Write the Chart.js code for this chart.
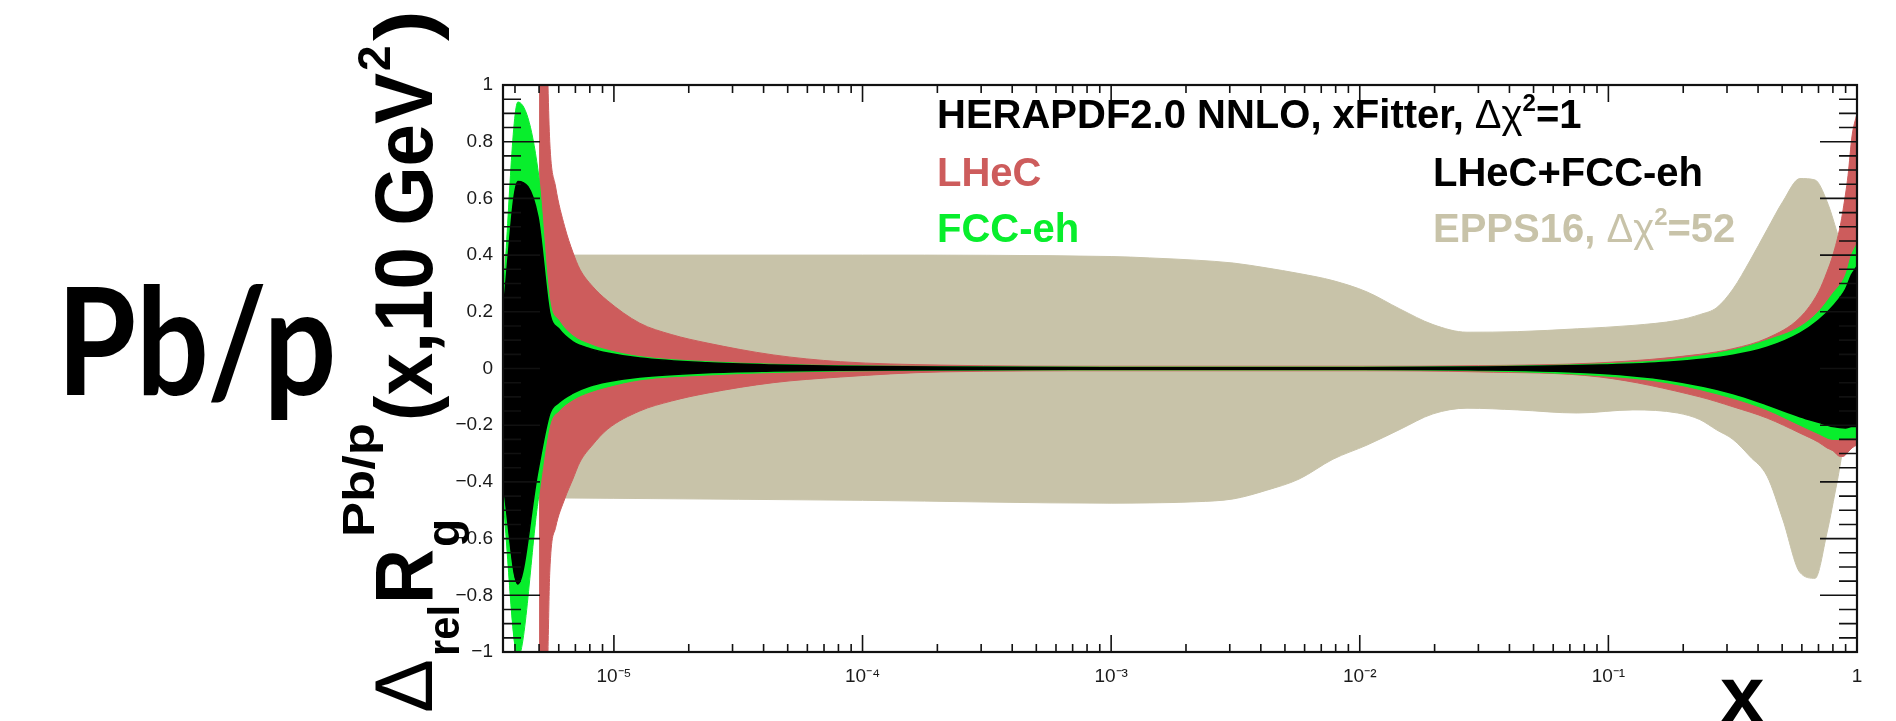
<!DOCTYPE html>
<html>
<head>
<meta charset="utf-8">
<title>Pb/p gluon uncertainty bands</title>
<script src="https://cdn.jsdelivr.net/npm/chart.js@4.4.0/dist/chart.umd.min.js"></script>
<style>
  html, body { margin: 0; padding: 0; background: #fff; }
  #wrap { position: relative; width: 1896px; height: 721px; }
</style>
</head>
<body>
<div id="wrap"><canvas id="bands"></canvas></div>
<script>
// x range of the plot
const X_MIN = 3.58e-6;
const X_MAX = 1;

// LHeC+FCC-eh (black)
const xCombined = [3.58e-6, 4.11e-6, 4.95e-6, 5.52e-6, 6.0e-6, 6.84e-6, 8.0e-6, 9.4e-6, 1.27e-5, 2.37e-5, 4.4e-5, 8e-5, 2e-4, 1e-3, 1e-2, 3e-2, 0.0925, 0.172, 0.317, 0.435, 0.59, 0.70, 0.80, 0.90, 0.95, 1.0];
const combinedUp = [0.20, 0.66, 0.535, 0.196, 0.14, 0.094, 0.07, 0.055, 0.037, 0.02, 0.012, 0.008, 0.005, 0.003, 0.003, 0.005, 0.012, 0.022, 0.047, 0.075, 0.125, 0.17, 0.22, 0.28, 0.33, 0.36];
const combinedLo = [-0.40, -0.76, -0.36, -0.16, -0.12, -0.087, -0.062, -0.047, -0.03, -0.015, -0.009, -0.006, -0.004, -0.003, -0.003, -0.005, -0.017, -0.04, -0.088, -0.128, -0.17, -0.19, -0.205, -0.21, -0.205, -0.205];

// FCC-eh (green)
const xFcc = [3.58e-6, 4.11e-6, 4.95e-6, 5.52e-6, 6.0e-6, 6.84e-6, 8.0e-6, 9.4e-6, 1.27e-5, 2.37e-5, 4.4e-5, 8e-5, 2e-4, 1e-3, 1e-2, 3e-2, 0.0925, 0.172, 0.317, 0.435, 0.59, 0.70, 0.80, 0.90, 0.95, 1.0];
const fccUp = [0.25, 0.94, 0.70, 0.24, 0.17, 0.115, 0.085, 0.065, 0.042, 0.024, 0.015, 0.01, 0.007, 0.005, 0.005, 0.007, 0.016, 0.03, 0.065, 0.10, 0.147, 0.20, 0.265, 0.33, 0.40, 0.44];
const fccLo = [-0.46, -1.02, -0.47, -0.20, -0.15, -0.11, -0.083, -0.065, -0.04, -0.023, -0.014, -0.009, -0.006, -0.005, -0.005, -0.008, -0.025, -0.05, -0.105, -0.146, -0.20, -0.23, -0.25, -0.25, -0.245, -0.245];

// LHeC (red)
const xLhec = [5.0e-6, 5.2e-6, 5.43e-6, 5.52e-6, 5.83e-6, 6.34e-6, 6.84e-6, 7.3e-6, 8.2e-6, 9.4e-6, 1.27e-5, 1.7e-5, 2.37e-5, 4.37e-5, 8.15e-5, 2.07e-4, 1e-3, 1e-2, 3e-2, 0.0925, 0.233, 0.317, 0.435, 0.59, 0.70, 0.757, 0.80, 0.855, 0.879, 0.92, 0.955, 1.0];
const lhecUp = [3.0, 1.8, 1.0, 0.80, 0.64, 0.50, 0.41, 0.35, 0.29, 0.24, 0.16, 0.12, 0.09, 0.048, 0.024, 0.012, 0.008, 0.008, 0.01, 0.02, 0.05, 0.07, 0.107, 0.18, 0.27, 0.34, 0.40, 0.50, 0.56, 0.68, 0.82, 0.90];
const lhecLo = [-3.0, -1.8, -1.0, -0.72, -0.56, -0.46, -0.39, -0.33, -0.27, -0.215, -0.15, -0.115, -0.087, -0.05, -0.03, -0.012, -0.008, -0.008, -0.012, -0.03, -0.10, -0.135, -0.175, -0.228, -0.26, -0.28, -0.29, -0.31, -0.31, -0.295, -0.28, -0.27];

// EPPS16 (tan)
const xEpps = [3.58e-6, 1e-5, 1e-4, 1e-3, 1.43e-3, 2.2e-3, 3.1e-3, 4.2e-3, 5.7e-3, 7.8e-3, 1.07e-2, 1.45e-2, 1.97e-2, 2.7e-2, 4.3e-2, 7.5e-2, 0.1256, 0.19, 0.233, 0.273, 0.317, 0.371, 0.435, 0.504, 0.59, 0.678, 0.757, 0.832, 0.90, 1.0];
const eppsUp = [0.40, 0.40, 0.40, 0.395, 0.39, 0.382, 0.372, 0.355, 0.335, 0.31, 0.27, 0.21, 0.155, 0.128, 0.13, 0.14, 0.152, 0.17, 0.19, 0.215, 0.28, 0.38, 0.49, 0.59, 0.67, 0.665, 0.59, 0.48, 0.38, 0.30];
const eppsLo = [-0.455, -0.458, -0.465, -0.475, -0.474, -0.47, -0.46, -0.43, -0.39, -0.32, -0.27, -0.215, -0.16, -0.14, -0.146, -0.157, -0.146, -0.157, -0.18, -0.217, -0.25, -0.31, -0.38, -0.535, -0.72, -0.74, -0.58, -0.40, -0.25, -0.22];

// axis labels
const xTickValues = [1e-5, 1e-4, 1e-3, 1e-2, 1e-1, 1];
const xTickLabels = ['10\u207B\u2075', '10\u207B\u2074', '10\u207B\u00B3', '10\u207B\u00B2', '10\u207B\u00B9', '1'];

const COLORS = {
  combined: '#000000',
  fcc: '#08ee2c',
  lhec: '#cd5c5c',
  epps: '#c8c3a9'
};
const SANS = '"Liberation Sans", Arial, Helvetica, sans-serif';

function points(xs, ys) {
  return xs.map((x, i) => ({ x, y: ys[i] }));
}

// one band = upper edge filled down to the lower edge
function band(label, xs, up, lo, color, lineWidth) {
  const style = {
    borderColor: color,
    backgroundColor: color,
    borderWidth: lineWidth,
    pointRadius: 0,
    cubicInterpolationMode: 'monotone'
  };
  return [
    { label: label, data: points(xs, up), fill: '+1', ...style },
    { label: label + ' low', data: points(xs, lo), fill: false, ...style }
  ];
}

function yLabel(v) {
  const r = Math.round(v * 10) / 10;
  if (r === 0) return '0';
  const s = Math.abs(r) === 1 ? '1' : Math.abs(r).toFixed(1);
  return (r < 0 ? '\u2212' : '') + s;
}

function font(size, weight) {
  return (weight || 'bold') + ' ' + size + 'px ' + SANS;
}

// draws a run of text pieces, each optionally raised or lowered
function drawRich(ctx, x, y, parts) {
  for (const p of parts) {
    ctx.font = font(p.s, p.w);
    ctx.fillText(p.t, x, y + (p.dy || 0));
    x += ctx.measureText(p.t).width;
  }
  return x;
}

// draws text starting at `a`; when `b` is given the run is squeezed to end there
function drawSpan(ctx, p) {
  ctx.font = font(p.s, p.w);
  const w = ctx.measureText(p.t).width;
  const sx = p.b ? (p.b - p.a) / w : 1;
  ctx.save();
  ctx.translate(p.a, p.dy || 0);
  ctx.scale(sx, 1);
  ctx.fillText(p.t, 0, 0);
  ctx.restore();
}

// ROOT-style frame with inward ticks on all four sides
function drawFrame(chart) {
  const { ctx, chartArea: a } = chart;
  const xs = chart.scales.x;
  const ys = chart.scales.y;
  ctx.save();
  ctx.strokeStyle = '#111';
  ctx.lineWidth = 1.6;
  ctx.beginPath();
  for (let e = -6; e <= 0; e++) {
    for (let k = 1; k <= 9; k++) {
      const v = k * Math.pow(10, e);
      if (v < X_MIN || v > X_MAX * 1.0001) continue;
      const px = xs.getPixelForValue(v);
      const len = k === 1 ? 17 : 8;
      ctx.moveTo(px, a.bottom); ctx.lineTo(px, a.bottom - len);
      ctx.moveTo(px, a.top); ctx.lineTo(px, a.top + len);
    }
  }
  for (let i = -20; i <= 20; i++) {
    const py = ys.getPixelForValue(i * 0.05);
    const len = i % 4 === 0 ? 37 : 18;
    ctx.moveTo(a.left, py); ctx.lineTo(a.left + len, py);
    ctx.moveTo(a.right, py); ctx.lineTo(a.right - len, py);
  }
  ctx.stroke();
  ctx.lineWidth = 2.2;
  ctx.strokeRect(a.left, a.top, a.right - a.left, a.bottom - a.top);
  ctx.restore();
}

// frame, titles and band legend
const decorations = {
  id: 'decorations',
  afterDraw(chart) {
    const ctx = chart.ctx;
    drawFrame(chart);

    ctx.save();
    ctx.textAlign = 'left';
    ctx.textBaseline = 'alphabetic';

    // legend block
    const sup2 = { t: '2', s: 24, dy: -17 };
    ctx.fillStyle = '#000';
    drawRich(ctx, 937, 128, [
      { t: 'HERAPDF2.0 NNLO, xFitter, ', s: 40 },
      { t: '\u0394\u03C7', s: 40, w: 'normal' }, sup2, { t: '=1', s: 40 }
    ]);
    ctx.fillStyle = COLORS.lhec;
    drawRich(ctx, 937, 186, [{ t: 'LHeC', s: 40 }]);
    ctx.fillStyle = COLORS.fcc;
    drawRich(ctx, 937, 242, [{ t: 'FCC-eh', s: 40 }]);
    ctx.fillStyle = '#000';
    drawRich(ctx, 1433, 186, [{ t: 'LHeC+FCC-eh', s: 40 }]);
    ctx.fillStyle = COLORS.epps;
    drawRich(ctx, 1433, 242, [
      { t: 'EPPS16, ', s: 40 },
      { t: '\u0394\u03C7', s: 40, w: 'normal' }, sup2, { t: '=52', s: 40 }
    ]);

    // y-axis title, reading upwards from the bottom of the page
    ctx.fillStyle = '#000';
    ctx.save();
    ctx.translate(432, 713);
    ctx.rotate(-Math.PI / 2);
    [
      { t: '\u0394', s: 82, w: 'normal', a: 0, b: 54 },
      { t: 'rel', s: 44, a: 57, b: 108, dy: 27 },
      { t: 'R', s: 82, a: 109, b: 164 },
      { t: 'g', s: 46, a: 166, dy: 27 },
      { t: 'Pb/p', s: 45, a: 176, b: 290, dy: -58 },
      { t: '(x,10 GeV', s: 82, a: 292, b: 640 },
      { t: '2', s: 46, a: 642, dy: -42 },
      { t: ')', s: 82, a: 672, b: 703 }
    ].forEach(p => drawSpan(ctx, p));
    ctx.restore();

    // x-axis title
    ctx.font = font(80);
    ctx.fillText('x', 1720, 722);

    // large ratio label on the left
    ctx.font = 'bold 150px Lato, ' + SANS;
    const m = ctx.measureText('Pb/p');
    const inkW = m.actualBoundingBoxLeft + m.actualBoundingBoxRight;
    const sx = 265 / inkW;
    ctx.save();
    ctx.translate(67 + m.actualBoundingBoxLeft * sx, 395);
    ctx.scale(sx, 1);
    ctx.fillText('Pb/p', 0, 0);
    ctx.restore();

    ctx.restore();
  }
};

const datasets = [
  ...band('LHeC+FCC-eh', xCombined, combinedUp, combinedLo, COLORS.combined, 1.5),
  ...band('FCC-eh', xFcc, fccUp, fccLo, COLORS.fcc, 1),
  ...band('LHeC', xLhec, lhecUp, lhecLo, COLORS.lhec, 1),
  ...band('EPPS16', xEpps, eppsUp, eppsLo, COLORS.epps, 1)
];

new Chart(document.getElementById('bands'), {
  type: 'line',
  data: { datasets },
  options: {
    responsive: true,
    maintainAspectRatio: false,
    animation: false,
    events: [],
    layout: { padding: { left: 0, right: 39, top: 85, bottom: 0 } },
    plugins: {
      legend: { display: false },
      tooltip: { enabled: false }
    },
    scales: {
      x: {
        type: 'logarithmic',
        min: X_MIN,
        max: X_MAX,
        grid: { display: false, drawTicks: false },
        border: { display: false },
        afterBuildTicks: axis => { axis.ticks = xTickValues.map(value => ({ value })); },
        afterFit: axis => { axis.height = 69; },
        ticks: {
          autoSkip: false,
          maxRotation: 0,
          padding: 13,
          color: '#1a1a1a',
          font: { family: SANS, size: 19 },
          callback: (v, i) => xTickLabels[i]
        }
      },
      y: {
        min: -1,
        max: 1,
        grid: { display: false, drawTicks: false },
        border: { display: false },
        afterFit: axis => { axis.width = 503; },
        ticks: {
          stepSize: 0.2,
          padding: 10,
          color: '#1a1a1a',
          font: { family: SANS, size: 19 },
          callback: v => yLabel(v)
        }
      }
    }
  },
  plugins: [decorations]
});
</script>
</body>
</html>
